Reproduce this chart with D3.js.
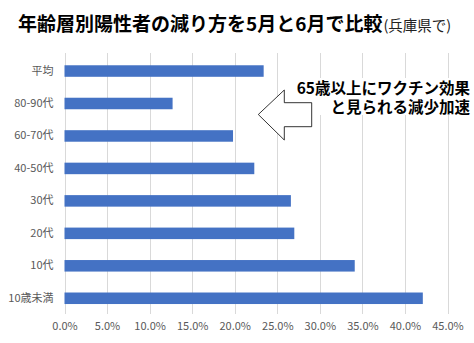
<!DOCTYPE html>
<html>
<head>
<meta charset="utf-8">
<script src="https://cdn.jsdelivr.net/npm/d3@7"></script>
<style>
  html, body { margin: 0; padding: 0; background: #fff; }
  svg { display: block; font-family: "Noto Sans CJK JP", "Noto Sans", sans-serif; }
</style>
</head>
<body>
<svg id="chart" width="474" height="343"></svg>
<script>
// Age groups, top to bottom
const categories = ["平均", "80-90代", "60-70代", "40-50代", "30代", "20代", "10代", "10歳未満"];
// Decrease rate, May vs June (fraction)
const values = [0.234, 0.127, 0.198, 0.223, 0.266, 0.270, 0.341, 0.421];
const xTicks = [0, 0.05, 0.10, 0.15, 0.20, 0.25, 0.30, 0.35, 0.40, 0.45];
const titleMain = "年齢層別陽性者の減り方を5月と6月で比較";
const titleSub = "(兵庫県で)";
const noteLines = ["65歳以上にワクチン効果", "と見られる減少加速"];

const svg = d3.select("#chart");

const x = d3.scaleLinear().domain([0, 0.45]).range([64.5, 447.5]);
const y = d3.scaleBand().domain(categories).range([54.8, 314.5]).paddingInner(0.645).paddingOuter(0.3225);

// Vertical gridlines
svg.append("g")
  .selectAll("line")
  .data(xTicks)
  .join("line")
  .attr("x1", d => Math.round(x(d)) + 0.5)
  .attr("x2", d => Math.round(x(d)) + 0.5)
  .attr("y1", 53)
  .attr("y2", 314)
  .attr("stroke", "#d9d9d9")
  .attr("stroke-width", 1);

// Bars
svg.append("g")
  .selectAll("rect")
  .data(values)
  .join("rect")
  .attr("x", x(0))
  .attr("y", (d, i) => y(categories[i]))
  .attr("width", d => x(d) - x(0))
  .attr("height", y.bandwidth())
  .attr("fill", "#4472c4");

// Category axis labels
const yAxis = svg.append("g")
  .attr("transform", `translate(${x(0)},0)`)
  .call(d3.axisLeft(y).tickSize(0).tickPadding(11));
yAxis.select(".domain").remove();
yAxis.selectAll("text")
  .attr("font-size", 11)
  .attr("fill", "#595959")
  .style("font-family", "'Noto Sans CJK JP', sans-serif");

// Value axis labels
const xAxis = svg.append("g")
  .attr("transform", "translate(0,322)")
  .call(d3.axisBottom(x).tickValues(xTicks).tickFormat(d3.format(".1%")).tickSize(0).tickPadding(0));
xAxis.select(".domain").remove();
xAxis.selectAll("text")
  .attr("font-size", 11)
  .attr("fill", "#595959")
  .style("font-family", "'Noto Sans CJK JP', sans-serif");

// Title
const title = svg.append("text")
  .attr("x", 18)
  .attr("y", 31)
  .attr("fill", "#000");
title.append("tspan")
  .attr("font-size", 19)
  .attr("font-weight", "bold")
  .text(titleMain);
title.append("tspan")
  .attr("font-size", 14.5)
  .attr("fill", "#222")
  .attr("dx", 1)
  .text(titleSub);

// Callout: white box behind the note
svg.append("rect")
  .attr("x", 287)
  .attr("y", 78)
  .attr("width", 187)
  .attr("height", 37)
  .attr("fill", "#fff");

// Left-pointing block arrow
const arrow = [
  [258.3, 114.5], [284.3, 90], [284.3, 102.7], [311.7, 102.7],
  [311.7, 126.7], [284.3, 126.7], [284.3, 140]
];
svg.append("path")
  .attr("d", d3.line()(arrow) + "Z")
  .attr("fill", "#fff")
  .attr("stroke", "#000")
  .attr("stroke-width", 0.8);

// Two-line note, drawn as one text block
const note = svg.append("text")
  .attr("text-anchor", "end")
  .attr("font-size", 15.5)
  .attr("font-weight", "bold")
  .attr("fill", "#000");
note.selectAll("tspan")
  .data(noteLines)
  .join("tspan")
  .attr("x", 470)
  .attr("y", (d, i) => 94 + i * 18.5)
  .text(d => d);
</script>
</body>
</html>
